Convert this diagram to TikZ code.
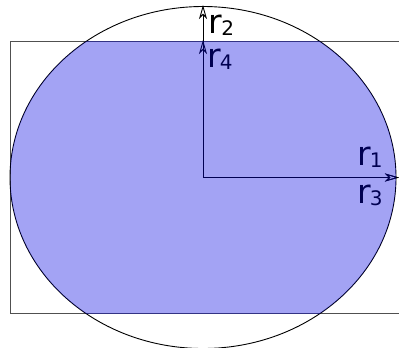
\documentclass[tikz,border=0pt]{standalone}
\usepackage{fontspec}
\setmainfont{DejaVu Sans}
\usetikzlibrary{arrows.meta}
\definecolor{fillblue}{RGB}{0,0,225}
\definecolor{rectgray}{RGB}{80,80,80}
\newcommand\rlab[1]{\fontsize{33}{35}\selectfont r\kern-1pt\raisebox{-2.5pt}{\fontsize{20}{22}\selectfont #1}}
\begin{document}
\begin{tikzpicture}[x=1pt,y=-1pt,
  vec/.style={line width=0.9pt,-{Stealth[open,length=14pt,width=8pt,inset=4pt]}},
  lbl/.style={anchor=base west,inner sep=0pt}]
\useasboundingbox (0,0) rectangle (399,348);
\clip (0,0) rectangle (399,348);
\coordinate (O) at (203,177.5);
\coordinate (E1) at (399,177.5);
\coordinate (E3) at (399,177.5);
\coordinate (E2) at (203,5);
\coordinate (E4) at (203,40);
\draw[rectgray,line width=1pt] (10.5,41) rectangle (430,313);
\draw[line width=0.9pt] (O) ellipse [x radius=193, y radius=171];
\draw[vec] (O) -- (E1);
\draw[vec] (O) -- (E3);
\draw[vec] (O) -- (E2);
\draw[vec] (O) -- (E4);
\node[lbl] (l2) at (208.5,33) {\rlab{2}};
\node[lbl] (l4) at (207,67) {\rlab{4}};
\node[lbl] (l1) at (357,165) {\rlab{1}};
\node[lbl] (l3) at (357,203) {\rlab{3}};
\begin{scope}
\clip (10.5,41) rectangle (430,313);
\fill[fillblue,fill opacity=0.36] (O) ellipse [x radius=193, y radius=171];
\end{scope}
\end{tikzpicture}
\end{document}
